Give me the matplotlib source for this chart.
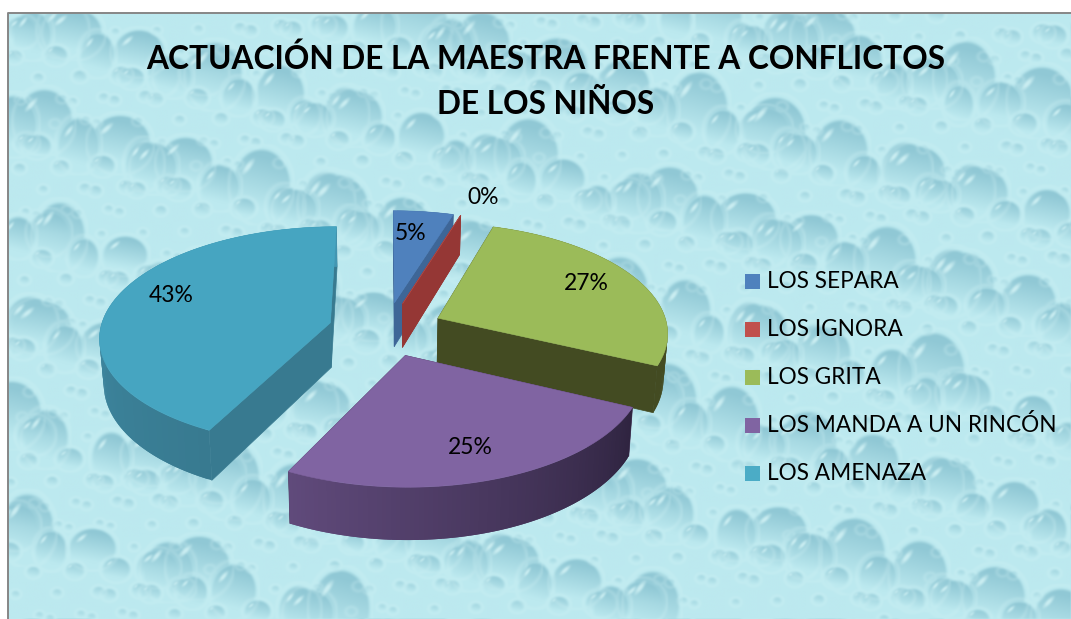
#!/usr/bin/env python3
"""Exploded 3D pie on a water-drop backdrop, drawn by hand in pixel coordinates."""

import numpy as np
import matplotlib
matplotlib.use("Agg")
import matplotlib.pyplot as plt
from matplotlib.collections import PolyCollection
from matplotlib.colors import to_rgb
from matplotlib.patches import Polygon, Rectangle

TITLE = "ACTUACIÓN DE LA MAESTRA FRENTE A CONFLICTOS\nDE LOS NIÑOS"
categories = ["LOS SEPARA", "LOS IGNORA", "LOS GRITA", "LOS MANDA A UN RINCÓN", "LOS AMENAZA"]
shares = [4.8, 0.0, 27.2, 25.4, 42.6]  # percent

W, H = 1071, 619

# slice styling
TOP = ["#4F81BD", "#C0504D", "#9BBB59", "#8064A2", "#46A5C1"]
CUT = ["#3E6697", "#953735", "#434B22", "#4A3659", "#387A90"]
RIM_A = ["#3E6697", "#953735", "#434B22", "#2F2440", "#387A90"]  # colour at slice start
RIM_B = ["#3E6697", "#953735", "#434B22", "#604A7B", "#4396B2"]  # colour at slice end
DRAW_ORDER = [0, 1, 4, 2, 3]
LABEL_XY = [(411, 234), (483, 198), (586, 284), (470, 448), (171, 295)]
LEGEND_Y = [281, 329, 377, 425, 473]

# projection of the pie into the picture
CX, CY = 386, 329
RX, RY = 230, 109
PERSP = 0.12
DEPTH = 45
EXPLODE = 0.25


def project(x, y, lower=False):
    s = 1.0 / (1.0 + PERSP * y)
    px = RX * x * s
    py = RY * y * s
    if lower:
        return CX + px * 0.985, CY - py + DEPTH * s
    return CX + px, CY - py


def backdrop():
    """Pale aqua field with shaded drops, placed on a fixed low-discrepancy walk."""
    yy, xx = np.mgrid[0:H, 0:W].astype(float)
    base = np.array(to_rgb("#BCE9EF"))
    dark = np.array(to_rgb("#90C8D5"))
    pale = np.array(to_rgb("#D6F5F7"))
    shade = np.zeros((H, W))
    glow = np.zeros((H, W))
    for i in range(1, 1000):
        u, v, t = (i * 0.61803) % 1, (i * 0.75488) % 1, (i * 0.32472) % 1
        size = 5 + 28 * t ** 3.5
        x0, y0 = u * W, v * H
        rx, ry = size, size * (0.85 + 0.5 * ((i * 0.4142) % 1) * (size > 15))
        x1, x2 = int(max(x0 - rx - 3, 0)), int(min(x0 + rx + 4, W))
        y1, y2 = int(max(y0 - ry - 3, 0)), int(min(y0 + ry + 4, H))
        if x1 >= x2 or y1 >= y2:
            continue
        dx = (xx[y1:y2, x1:x2] - x0) / rx
        dy = (yy[y1:y2, x1:x2] - y0) / ry
        r = np.hypot(dx, dy)
        inside = np.clip((1 - r) * size / 3.0, 0, 1)
        fade = np.clip(0.45 - 0.7 * dy + 0.15 * dx, 0, 1) * min(0.4 + size / 30.0, 1.0)
        shade[y1:y2, x1:x2] = np.maximum(shade[y1:y2, x1:x2], inside * fade)
        ring = np.exp(-((r - 1.1) * size / 2.0) ** 2)
        glow[y1:y2, x1:x2] = np.maximum(glow[y1:y2, x1:x2], ring * 0.3)
        hx = (dx + 0.45) * np.cos(0.8) + (dy + 0.5) * np.sin(0.8)
        hy = -(dx + 0.45) * np.sin(0.8) + (dy + 0.5) * np.cos(0.8)
        spot = np.clip(1.4 - np.hypot(hx / 0.08, hy / 0.24), 0, 1) * (size > 8)
        glow[y1:y2, x1:x2] = np.maximum(glow[y1:y2, x1:x2], spot)
    img = base[None, None, :] * (1 - shade[..., None]) + dark[None, None, :] * shade[..., None]
    g = glow[..., None] * 0.8
    img = img * (1 - g) + pale[None, None, :] * g
    # the source picture is soft, so blur a little
    for axis in (0, 1):
        img = (np.roll(img, 1, axis) + 2 * img + np.roll(img, -1, axis)) / 4
    return img


fig = plt.figure(figsize=(W / 100, H / 100), dpi=100, facecolor="white")
ax = fig.add_axes([0, 0, 1, 1])
ax.set_xlim(0, W)
ax.set_ylim(H, 0)
ax.axis("off")

ax.imshow(backdrop(), extent=(8, W, H, 13), aspect="auto", zorder=0, interpolation="bilinear")
ax.plot([8, 8, W], [H, 13, 13], color="#868686", lw=1.4, zorder=1)
ax.set_xlim(0, W)
ax.set_ylim(H, 0)

edges = np.radians(np.cumsum([0.0] + shares) * 3.6)

for z, i in enumerate(DRAW_ORDER):
    start, end = edges[i], edges[i + 1]
    mid = (start + end) / 2
    ox, oy = EXPLODE * np.sin(mid), EXPLODE * np.cos(mid)
    th = np.linspace(start, end, max(int(np.degrees(end - start)), 1) + 1)
    xs, ys = ox + np.sin(th), oy + np.cos(th)
    zo = 2 + z

    apex_top, apex_low = project(ox, oy), project(ox, oy, lower=True)
    for a in (start, end):
        rim = (ox + np.sin(a), oy + np.cos(a))
        ax.add_patch(Polygon([apex_top, project(*rim), project(*rim, lower=True), apex_low],
                             fc=CUT[i], ec=CUT[i], lw=0.5, zorder=zo))

    # outer wall: strips overlap the next step so no seams show through
    strips, cols = [], []
    ca, cb = np.array(to_rgb(RIM_A[i])), np.array(to_rgb(RIM_B[i]))
    for k in range(len(th) - 1):
        n = min(k + 2, len(th) - 1)
        p, q = (xs[k], ys[k]), (xs[n], ys[n])
        strips.append([project(*p), project(*q), project(*q, lower=True), project(*p, lower=True)])
        cols.append(ca + (cb - ca) * k / max(len(th) - 2, 1))
    ax.add_collection(PolyCollection(strips, facecolors=cols, edgecolors="none", zorder=zo))

    rim_top = [project(a, b) for a, b in zip(xs, ys)]
    ax.add_patch(Polygon([apex_top] + rim_top, fc=TOP[i], ec=TOP[i], lw=0.4, zorder=zo + 0.5))

for i, share in enumerate(shares):
    ax.text(*LABEL_XY[i], f"{share:.0f}%", fontsize=16.5, family="Lato", color="black",
            ha="center", va="center", zorder=20)

ax.text(546, 81, TITLE, fontsize=22.8, family="Lato", fontweight="bold", color="black",
        ha="center", va="center", linespacing=1.6, zorder=20)

for name, color, y in zip(categories, ["#4F81BD", "#C0504D", "#9BBB59", "#8064A2", "#4BACC6"], LEGEND_Y):
    ax.add_patch(Rectangle((745, y - 7.5), 15, 15, fc=color, ec="none", zorder=20))
    ax.text(767, y, name, fontsize=16.3, family="Lato", color="black", ha="left", va="center", zorder=20)

fig.savefig("out.png", dpi=100)
plt.close(fig)
